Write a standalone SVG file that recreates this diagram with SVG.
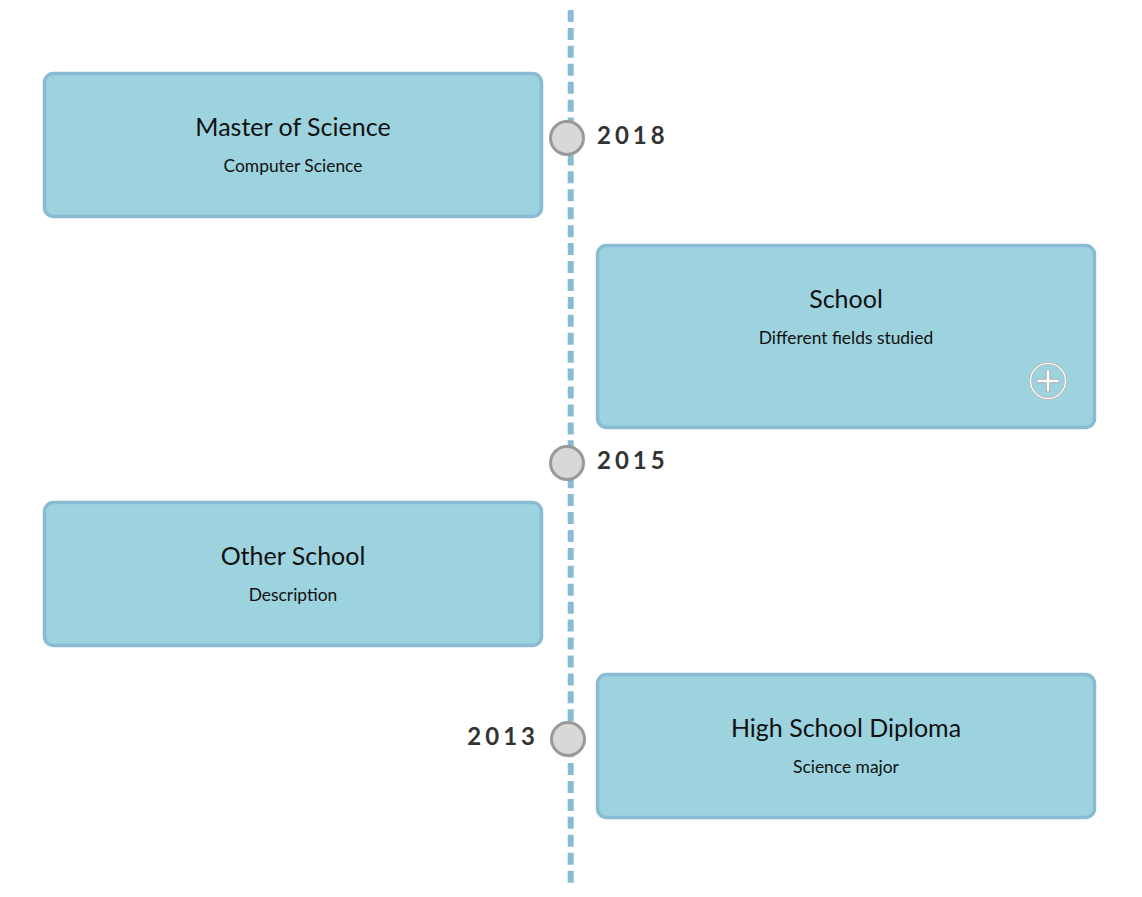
<svg xmlns="http://www.w3.org/2000/svg" width="1142" height="897" viewBox="0 0 1142 897">
<style>
.box{fill:#9cd3df;stroke:#89bcd3;stroke-width:3.5}
.title{font-family:Lato,"Noto Sans",sans-serif;font-size:25px;fill:#111;text-anchor:middle}
.sub{font-family:Lato,"Noto Sans",sans-serif;font-size:17.4px;fill:#111;text-anchor:middle}
.year{font-family:Lato,"Noto Sans",sans-serif;font-size:24px;font-weight:bold;fill:#333;letter-spacing:4px}
.dot{fill:#d8d8d8;stroke:#999;stroke-width:3}
</style>
<rect width="1142" height="897" fill="#fff"/>
<g id="connectors">
<line x1="570.7" y1="10" x2="570.7" y2="883" stroke="#89bcd3" stroke-width="6" stroke-dasharray="12 5.93"/>
</g>
<g id="node-master">
<rect class="box" x="44.5" y="73.5" width="497" height="143" rx="9"/>
<text class="title" x="293" y="136">Master of Science</text>
<text class="sub" x="293" y="172">Computer Science</text>
</g>
<g id="node-school">
<rect class="box" x="597.5" y="245.5" width="497" height="182" rx="9"/>
<text class="title" x="846" y="308">School</text>
<text class="sub" x="846" y="344">Different fields studied</text>
<g id="expand-icon">
<circle cx="1048" cy="381" r="17.5" fill="none" stroke="#bbb" stroke-width="3"/>
<circle cx="1048" cy="381" r="17.5" fill="none" stroke="#fff" stroke-width="1.2"/>
<path d="M1048 370V392M1037 381H1059" stroke="#aaa" stroke-width="4.5"/>
<path d="M1048 370.5V391.5M1037.5 381H1058.5" stroke="#fff" stroke-width="2.5"/>
</g>
</g>
<g id="node-other">
<rect class="box" x="44.5" y="502.5" width="497" height="143" rx="9"/>
<text class="title" x="293" y="565">Other School</text>
<text class="sub" x="293" y="601">Description</text>
</g>
<g id="node-highschool">
<rect class="box" x="597.5" y="674.5" width="497" height="143" rx="9"/>
<text class="title" x="846" y="737">High School Diploma</text>
<text class="sub" x="846" y="773">Science major</text>
</g>
<g id="year-2018">
<circle class="dot" cx="567" cy="138" r="16.5"/>
<text class="year" x="597" y="144">2018</text>
</g>
<g id="year-2015">
<circle class="dot" cx="567" cy="463" r="16.5"/>
<text class="year" x="597" y="469">2015</text>
</g>
<g id="year-2013">
<circle class="dot" cx="568" cy="739" r="16.5"/>
<text class="year" x="539" y="745" text-anchor="end">2013</text>
</g>
</svg>
